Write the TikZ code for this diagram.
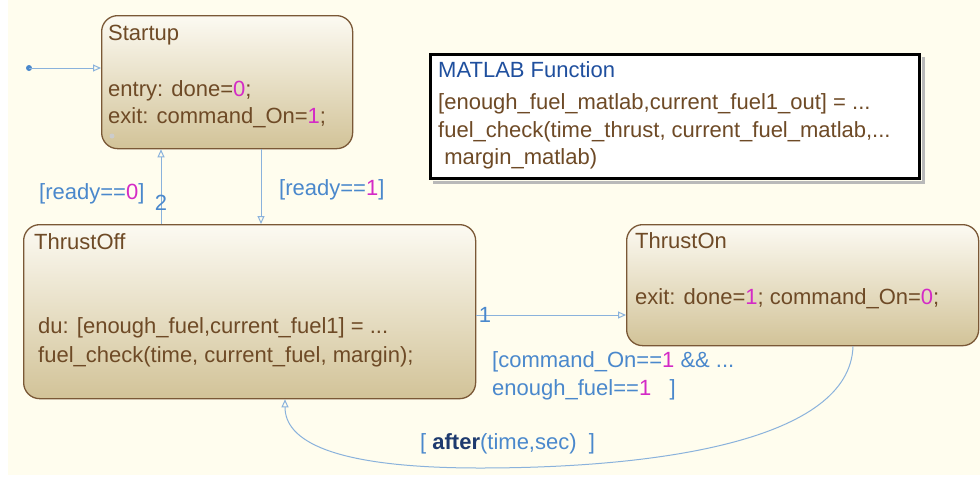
\documentclass[tikz,border=0pt]{standalone}
\usepackage{fontspec}
\setmainfont{Liberation Sans}
\usepackage{xcolor}
\usetikzlibrary{arrows.meta,positioning,calc}
\definecolor{bgcream}{HTML}{FFFDEE}
\definecolor{stbrown}{HTML}{7A5836}
\definecolor{sttext}{HTML}{6E4A26}
\definecolor{sttop}{HTML}{FCFAF2}
\definecolor{stbot}{HTML}{D2C398}
\definecolor{trline}{HTML}{8AB2DC}
\definecolor{trtext}{HTML}{4A88CC}
\definecolor{numpink}{HTML}{D42AC6}
\definecolor{fnblue}{HTML}{1F4F9E}
\definecolor{kwnavy}{HTML}{1E3A6E}
\tikzset{
  state/.style  ={draw=stbrown,line width=1.3pt,rounded corners=16pt,top color=sttop,
                  bottom color=stbot,anchor=north west,inner sep=0pt},
  txt/.style    ={anchor=base west,inner sep=0pt,font=\fontsize{22}{26}\selectfont},
  sttxt/.style  ={txt,text=sttext},
  guard/.style  ={txt,text=trtext},
  trnum/.style  ={anchor=base,inner sep=0pt,font=\fontsize{22}{26}\selectfont,text=trtext},
  trans/.style  ={draw=trline,line width=1pt,-{Triangle[open,length=8pt,width=7pt]}},
  fnbox/.style  ={draw=black,line width=2.8pt,fill=white,anchor=north west,inner sep=0pt},
  shade/.style  ={fill=gray!55},
}
\newcommand{\hl}[1]{\textcolor{numpink}{#1}}

\begin{document}
\begin{tikzpicture}[x=1pt,y=-1pt]
  \useasboundingbox (0,0) rectangle (980,480);
  \fill[white] (0,0) rectangle (980,480);
  \fill[bgcream] (8,0) rectangle (980,475);
  % states
  \node[state,minimum width=251pt,minimum height=133pt] (su) at (101,15) {};
  \node[state,minimum width=452pt,minimum height=174pt] (toff) at (23,224) {};
  \node[state,minimum width=352pt,minimum height=121pt] (ton) at (626,224) {};
  \node[sttxt] (sun) at ($(su.north west)+(7,25)$) {Startup};
  \node[sttxt] (su1) at ($(su.north west)+(7,81)$) {entry: done=\hl{0};};
  \node[sttxt] (su2) at ($(su.north west)+(7,108)$) {exit: command\_On=\hl{1};};
  \fill[gray!40] ($(su.north west)+(11,121)$) circle (2.5pt);
  \node[sttxt] (toffn) at ($(toff.north west)+(11,25)$) {ThrustOff};
  \node[sttxt] (toff1) at ($(toff.north west)+(15,109)$) {du: [enough\_fuel,current\_fuel1] = ...};
  \node[sttxt] (toff2) at ($(toff.north west)+(15,138)$) {fuel\_check(time, current\_fuel, margin);};
  \node[sttxt] (tonn) at ($(ton.north west)+(9,24)$) {ThrustOn};
  \node[sttxt] (ton1) at ($(ton.north west)+(9,80)$) {exit: done=\hl{1}; command\_On=\hl{0};};
  % MATLAB function box, with its shadow on the right and below
  \node[fnbox,minimum width=489pt,minimum height=124pt] (mf) at (429,53) {};
  \fill[shade] ($(mf.north east)+(1.4,4)$) rectangle ($(mf.south east)+(4.5,4.5)$);
  \fill[shade] ($(mf.south west)+(4,1.4)$) rectangle ($(mf.south east)+(4.5,4.5)$);
  \node[txt,text=fnblue] (mfn) at ($(mf.north west)+(9,24)$) {MATLAB Function};
  \node[sttxt] (mf1) at ($(mf.north west)+(9,56)$) {[enough\_fuel\_matlab,current\_fuel1\_out] = ...};
  \node[sttxt] (mf2) at ($(mf.north west)+(9,84)$) {fuel\_check(time\_thrust, current\_fuel\_matlab,...};
  \node[sttxt] (mf3) at ($(mf.north west)+(9,111)$) {\ margin\_matlab)};
  % transitions
  \fill[trtext] (29,68) circle (3pt) coordinate (init);
  \draw[trans] (init) -- (init -| su.west);
  \draw[trans] ($(toff.north west)+(138,0)$) -- ($(su.south west)+(60,0)$);
  \draw[trans] ($(su.south west)+(160,0)$) -- ($(toff.north west)+(238,0)$);
  \draw[trans] ($(toff.north east)+(0,91)$) -- ($(ton.north west)+(0,91)$);
  \draw[trans] ($(ton.south west)+(227,0)$) .. controls (850,440) and (660,468) .. (480,468)
                .. controls (330,468) and (285,440) .. ($(toff.south west)+(262,0)$);
  \node[guard] (g0) at (39,199) {[ready==\hl{0}]};
  \node[trnum] (n2) at (161,210) {2};
  \node[guard] (g1) at (279,195) {[ready==\hl{1}]};
  \node[trnum] (n1) at (485,322) {1};
  \node[guard] (gc1) at (492,367) {[command\_On==\hl{1} \&\& ...};
  \node[guard] (gc2) at (492,395) {enough\_fuel==\hl{1}\ \ \ ]};
  \node[guard] (ga) at (420,449) {[ \textcolor{kwnavy}{\bfseries after}(time,sec)\ \ ]};
\end{tikzpicture}
\end{document}
